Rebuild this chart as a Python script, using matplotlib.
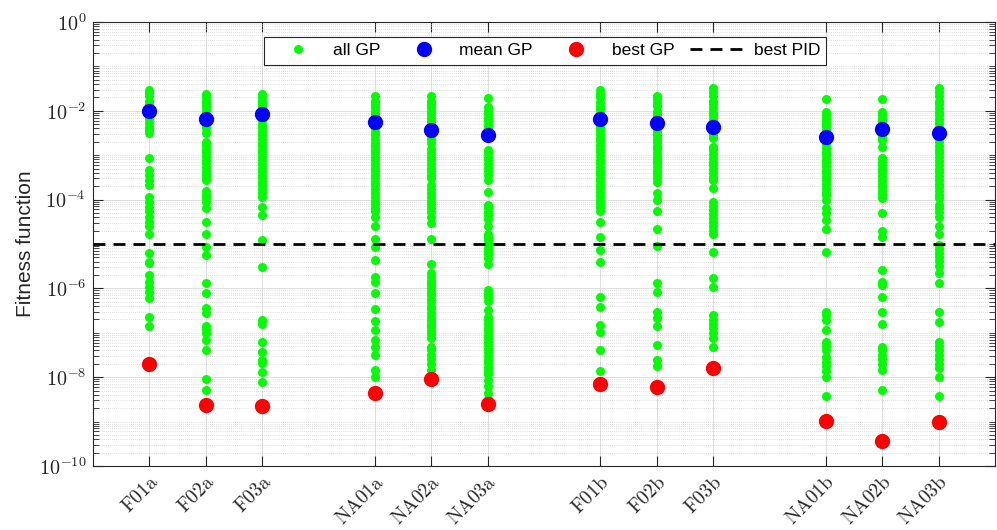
import numpy as np
import matplotlib
matplotlib.use('Agg')
import matplotlib.pyplot as plt
import matplotlib.transforms as mtransforms
from matplotlib.ticker import FixedLocator, LogLocator, FuncFormatter, NullFormatter

plt.rcParams['mathtext.fontset'] = 'cm'
plt.rcParams['font.family'] = 'Liberation Sans'

# test cases and their x slots (gap between groups)
cases = ['F01a', 'F02a', 'F03a', 'NA01a', 'NA02a', 'NA03a',
         'F01b', 'F02b', 'F03b', 'NA01b', 'NA02b', 'NA03b']
xpos = [1, 2, 3, 5, 6, 7, 9, 10, 11, 13, 14, 15]

# fitness of every GP run, per case
f01a = [2.9e-2, 2.5e-2, 2.1e-2, 1.7e-2, 1.4e-2, 1.2e-2, 1.0e-2, 8.1e-3, 6.6e-3, 5.4e-3, 4.4e-3, 3.6e-3,
        3.1e-3, 8.5e-4, 4.6e-4, 3.5e-4, 2.8e-4, 2.1e-4, 1.15e-4, 8.9e-5, 6.9e-5, 5.4e-5, 4.1e-5, 3.2e-5,
        2.5e-5, 1.7e-5, 6.2e-6, 4.0e-6, 3.7e-6, 2.0e-6, 1.4e-6, 1.1e-6, 8.5e-7, 6.0e-7, 2.3e-7, 1.4e-7]
f02a = [2.4e-2, 2.0e-2, 1.7e-2, 1.4e-2, 1.2e-2, 1.0e-2, 8.3e-3, 6.9e-3, 5.8e-3, 4.8e-3, 4.0e-3, 3.1e-3,
        2.0e-3, 1.7e-3, 1.4e-3, 1.15e-3, 9.5e-4, 7.9e-4, 6.6e-4, 5.5e-4, 4.5e-4, 3.8e-4, 3.2e-4, 2.8e-4,
        1.6e-4, 1.3e-4, 1.1e-4, 8.9e-5, 6.3e-5, 3.2e-5, 1.7e-5, 8.7e-6, 5.6e-6, 1.35e-6, 7.9e-7, 3.7e-7,
        2.75e-7, 1.4e-7, 1.2e-7, 1.0e-7, 7.0e-8, 4.1e-8, 8.9e-9, 5.1e-9]
f03a = [2.4e-2, 2.0e-2, 1.7e-2, 1.4e-2, 1.2e-2, 1.0e-2, 8.3e-3, 6.9e-3, 5.8e-3, 4.8e-3, 4.0e-3, 3.3e-3,
        2.8e-3, 2.3e-3, 1.9e-3, 1.6e-3, 1.3e-3, 1.1e-3, 9.1e-4, 7.6e-4, 6.3e-4, 5.2e-4, 4.4e-4, 3.6e-4,
        3.0e-4, 2.5e-4, 2.1e-4, 1.7e-4, 1.4e-4, 1.15e-4, 6.9e-5, 4.5e-5, 1.26e-5, 3.0e-6,
        1.95e-7, 1.6e-7, 6.3e-8, 3.7e-8, 2.5e-8, 2.1e-8, 1.3e-8, 7.9e-9]
na01a = [2.1e-2, 1.7e-2, 1.45e-2, 1.2e-2, 1.0e-2, 8.3e-3, 6.9e-3, 5.8e-3, 4.8e-3, 4.0e-3, 3.3e-3, 2.8e-3,
         2.3e-3, 1.9e-3, 1.6e-3, 1.3e-3, 1.1e-3, 9.1e-4, 7.6e-4, 6.3e-4, 5.2e-4, 4.4e-4, 3.6e-4, 3.0e-4,
         2.5e-4, 2.1e-4, 1.7e-4, 1.4e-4, 1.15e-4, 9.5e-5, 7.9e-5, 6.6e-5, 5.5e-5, 4.1e-5,
         2.5e-5, 1.3e-5, 8.7e-6, 4.4e-6, 1.8e-6, 1.4e-6, 7.8e-7, 3.5e-7, 1.8e-7, 1.15e-7,
         6.9e-8, 4.8e-8, 3.2e-8, 1.45e-8, 1.0e-8]
na02a = [2.1e-2, 1.7e-2, 1.45e-2, 1.2e-2, 1.0e-2, 8.3e-3, 6.9e-3, 5.8e-3, 4.8e-3, 4.0e-3, 3.3e-3, 2.8e-3,
         2.3e-3, 1.9e-3, 1.4e-3, 1.1e-3, 9.1e-4, 7.6e-4, 6.3e-4, 5.2e-4, 4.4e-4, 3.6e-4, 3.0e-4, 2.1e-4,
         1.7e-4, 1.4e-4, 1.15e-4, 9.5e-5, 7.9e-5, 6.6e-5, 5.2e-5, 4.1e-5, 2.9e-5, 1.3e-5, 3.6e-6,
         2.2e-6, 1.8e-6, 1.5e-6, 1.25e-6, 1.0e-6, 8.5e-7, 7.1e-7, 5.9e-7, 4.9e-7, 4.1e-7, 3.4e-7, 2.8e-7,
         2.3e-7, 1.95e-7, 1.6e-7, 1.35e-7, 1.1e-7, 9.3e-8, 7.5e-8, 4.9e-8, 4.0e-8, 3.2e-8, 2.6e-8,
         2.0e-8, 1.45e-8]
na03a = [1.9e-2, 1.2e-2, 1.0e-2, 8.3e-3, 6.9e-3, 5.8e-3, 4.8e-3, 4.0e-3, 3.3e-3, 2.8e-3,
         1.3e-3, 1.1e-3, 9.1e-4, 7.6e-4, 6.3e-4, 5.2e-4, 4.4e-4, 3.6e-4, 2.8e-4, 1.5e-4,
         7.6e-5, 6.3e-5, 5.2e-5, 4.4e-5, 3.6e-5, 2.6e-5,
         1.7e-5, 1.4e-5, 1.2e-5, 1.0e-5, 8.3e-6, 6.9e-6, 5.8e-6, 4.8e-6, 3.6e-6,
         9.1e-7, 7.6e-7, 6.3e-7, 5.2e-7, 3.2e-7,
         2.3e-7, 1.9e-7, 1.6e-7, 1.3e-7, 1.1e-7, 9.1e-8, 7.6e-8, 6.3e-8, 5.2e-8, 4.4e-8, 3.6e-8,
         3.0e-8, 2.5e-8, 2.1e-8, 1.7e-8, 1.4e-8, 1.15e-8, 8.5e-9, 6.2e-9, 4.5e-9, 3.3e-9]
f01b = [2.9e-2, 2.4e-2, 2.0e-2, 1.6e-2, 1.3e-2, 1.1e-2, 9.1e-3, 7.6e-3, 6.3e-3, 5.2e-3, 4.4e-3, 3.6e-3,
        3.0e-3, 2.5e-3, 2.1e-3, 1.7e-3, 1.4e-3, 1.15e-3, 9.5e-4, 7.9e-4, 6.6e-4, 5.5e-4, 4.5e-4, 3.8e-4,
        3.1e-4, 2.6e-4, 2.1e-4, 1.8e-4, 1.45e-4, 1.2e-4, 1.0e-4, 8.3e-5, 6.9e-5, 5.4e-5,
        3.2e-5, 1.4e-5, 7.2e-6, 4.0e-6, 6.5e-7, 3.9e-7, 1.5e-7, 1.05e-7, 4.0e-8, 1.4e-8]
f02b = [2.2e-2, 1.8e-2, 1.5e-2, 1.25e-2, 1.0e-2, 8.5e-3, 7.1e-3, 5.9e-3, 4.9e-3, 4.1e-3, 3.4e-3, 2.8e-3,
        2.3e-3, 1.95e-3, 1.6e-3, 1.35e-3, 1.1e-3, 9.3e-4, 7.8e-4, 6.5e-4, 5.4e-4, 4.5e-4, 3.7e-4, 3.1e-4,
        2.5e-4, 1.4e-4, 1.0e-4, 5.4e-5, 2.2e-5, 8.9e-6, 1.3e-6, 8.5e-7, 3.0e-7, 2.1e-7, 1.4e-7,
        5.4e-8, 2.5e-8, 1.75e-8]
f03b = [3.2e-2, 2.6e-2, 2.1e-2, 1.7e-2, 1.4e-2, 1.15e-2, 9.5e-3, 7.9e-3, 6.5e-3, 5.4e-3, 4.4e-3, 3.6e-3,
        2.9e-3, 2.4e-3, 1.55e-3, 1.3e-3, 1.05e-3, 8.7e-4, 7.1e-4, 5.9e-4, 4.8e-4, 4.0e-4, 3.3e-4, 2.8e-4,
        1.8e-4, 8.9e-5, 7.2e-5, 5.9e-5, 4.8e-5, 3.9e-5, 3.1e-5, 2.5e-5, 2.1e-5, 1.7e-5,
        6.6e-6, 1.7e-6, 1.1e-6, 2.5e-7, 1.95e-7, 1.6e-7, 1.25e-7, 1.0e-7, 7.6e-8, 4.9e-8]
na01b = [1.8e-2, 9.5e-3, 7.9e-3, 6.5e-3, 5.4e-3, 4.5e-3, 3.7e-3, 3.1e-3, 2.6e-3, 2.1e-3, 1.75e-3, 1.45e-3,
         1.2e-3, 1.0e-3, 8.3e-4, 6.9e-4, 5.7e-4, 4.7e-4, 3.9e-4, 3.2e-4, 2.7e-4, 2.2e-4, 1.8e-4, 1.5e-4,
         1.25e-4, 9.8e-5, 6.3e-5, 5.0e-5, 3.5e-5, 2.2e-5, 6.6e-6,
         3.0e-7, 2.5e-7, 1.95e-7, 1.15e-7, 6.3e-8, 5.0e-8, 4.0e-8, 2.9e-8, 2.2e-8, 1.8e-8, 1.4e-8,
         1.0e-8, 3.8e-9]
na02b = [1.8e-2, 9.5e-3, 7.9e-3, 6.6e-3, 5.5e-3, 4.5e-3, 3.8e-3, 3.2e-3, 2.6e-3, 2.2e-3, 1.55e-3,
         8.5e-4, 7.1e-4, 5.9e-4, 4.9e-4, 4.1e-4, 3.4e-4, 2.8e-4, 2.3e-4, 1.9e-4, 1.6e-4, 1.35e-4, 1.07e-4,
         4.9e-5, 2.0e-5, 1.45e-5, 2.6e-6, 1.4e-6, 1.2e-6, 6.5e-7, 3.0e-7, 1.6e-7,
         4.9e-8, 4.0e-8, 3.2e-8, 2.6e-8, 2.0e-8, 1.45e-8, 5.1e-9]
na03b = [3.2e-2, 2.6e-2, 2.1e-2, 1.7e-2, 1.4e-2, 1.15e-2, 9.5e-3, 7.9e-3, 6.5e-3, 5.4e-3, 4.4e-3, 3.6e-3,
         2.9e-3, 2.4e-3, 2.0e-3, 1.6e-3, 1.3e-3, 1.1e-3, 9.0e-4, 7.4e-4, 6.1e-4, 5.0e-4, 4.1e-4, 3.4e-4,
         2.8e-4, 2.3e-4, 1.9e-4, 1.55e-4, 1.3e-4, 1.07e-4, 7.6e-5, 6.3e-5, 5.2e-5, 4.1e-5, 2.5e-5, 1.7e-5,
         9.3e-6, 7.6e-6, 6.3e-6, 5.2e-6, 4.1e-6, 3.2e-6, 2.2e-6, 1.3e-6, 3.0e-7, 1.75e-7,
         6.3e-8, 5.0e-8, 4.0e-8, 3.2e-8, 2.6e-8, 2.0e-8, 1.6e-8, 1.0e-8, 3.8e-9]
all_gp = [f01a, f02a, f03a, na01a, na02a, na03a, f01b, f02b, f03b, na01b, na02b, na03b]

mean_gp = [9.8e-3, 6.7e-3, 8.3e-3, 5.5e-3, 3.7e-3, 2.8e-3, 6.4e-3, 5.4e-3, 4.3e-3, 2.6e-3, 3.8e-3, 3.1e-3]
best_gp = [2.0e-8, 2.35e-9, 2.2e-9, 4.5e-9, 9.3e-9, 2.5e-9, 7.0e-9, 6.1e-9, 1.6e-8, 1.05e-9, 3.7e-10, 9.6e-10]
best_pid = 1e-5

fig = plt.figure(figsize=(9.97, 5.30), dpi=100)
ax = fig.add_axes([0.0933, 0.1208, 0.9047, 0.8377])

for i, vals in enumerate(all_gp):
    h_all, = ax.plot([xpos[i]] * len(vals), vals, 'o', color='#00ff00', ms=6.5, mec='none', zorder=3)
h_mean, = ax.plot(xpos, mean_gp, 'o', color='#0000ff', ms=11, mec='none', zorder=4)
h_best, = ax.plot(xpos, best_gp, 'o', color='#ff0000', ms=11, mec='none', zorder=4)
h_pid = ax.axhline(best_pid, color='k', lw=2, ls=(0, (4.3, 2.9)), zorder=5)

ax.set_yscale('log')
ax.set_xlim(0, 16)
ax.set_ylim(1e-10, 1e0)
ax.set_xticks(xpos)
ax.set_xticklabels([r'$\mathrm{%s}$' % c for c in cases], rotation=45, ha='right',
                   va='top', rotation_mode='anchor', fontsize=14)
# nudge the slanted labels a little to the right
shift = mtransforms.ScaledTranslation(3 / 100, 0, fig.dpi_scale_trans)
for lab in ax.get_xticklabels():
    lab.set_transform(lab.get_transform() + shift)

ax.yaxis.set_major_locator(FixedLocator(10.0 ** np.arange(-10, 1, 2)))
ax.yaxis.set_minor_locator(LogLocator(base=10, subs=np.arange(1, 10), numticks=40))
ax.yaxis.set_minor_formatter(NullFormatter())
ax.yaxis.set_major_formatter(FuncFormatter(lambda v, p: r'$10^{%d}$' % round(np.log10(v))))
for lab in ax.get_yticklabels():
    lab.set_fontsize(14.5)

ax.tick_params(which='both', direction='in', top=True, right=True, colors='#262626')
ax.tick_params(which='major', length=7, width=0.8)
ax.tick_params(which='minor', length=4, width=0.6)
ax.tick_params(axis='x', pad=5)
ax.tick_params(axis='y', pad=5)
for s in ax.spines.values():
    s.set_color('#262626')
    s.set_linewidth(0.8)

ax.grid(which='major', color='#dedede', lw=0.7, ls='-')
ax.grid(which='minor', axis='y', color='#c4c4c4', lw=0.5, ls=(0, (1, 2)))
ax.set_axisbelow(True)

ax.set_ylabel('Fitness function', fontsize=15, color='#262626')
ax.yaxis.set_label_coords(-0.064, 0.5)

leg = ax.legend([h_all, h_mean, h_best, h_pid], ['all GP', 'mean GP', 'best GP', 'best PID'],
                ncol=4, loc='center', bbox_to_anchor=(0.501, 0.935), fontsize=12.5,
                handlelength=3.2, handletextpad=0.45, columnspacing=0.9,
                fancybox=False, framealpha=1, borderpad=0.35)
leg.get_frame().set_edgecolor('#262626')
leg.get_frame().set_linewidth(0.8)

fig.savefig('out.png', dpi=100)
